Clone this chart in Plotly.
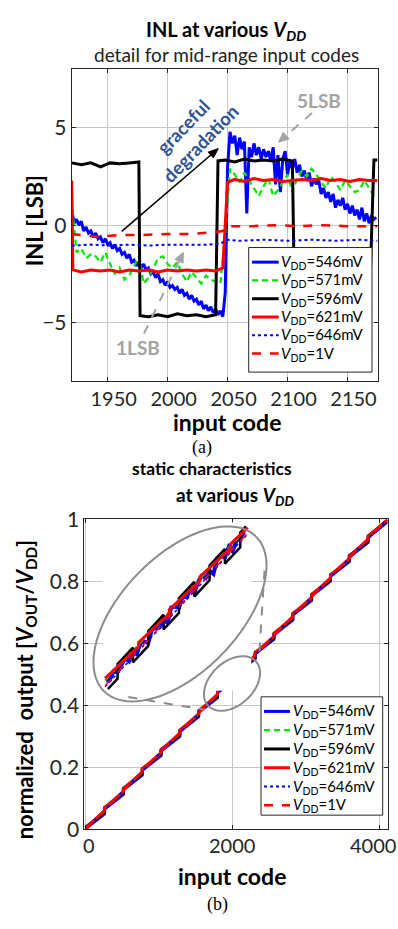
import numpy as np
import plotly.graph_objects as go

W, H = 398, 929

# ---------------- data ----------------
series_names = ["546mV", "571mV", "596mV", "621mV", "646mV", "1V"]

# (a) INL [LSB] versus input code, mid-range detail
inl_codes_546 = list(range(1920, 2176, 2))
inl_546 = [0.8, 0.1, 0.3, 0.0, 0.2, -0.3, -0.1, -0.4, -0.3, -0.6, -0.4, -0.7, -0.6, -0.9, -0.7, -1.0,
           -0.9, -1.2, -1.0, -1.3, -1.2, -1.5, -1.4, -1.7, -1.5, -1.9, -1.8, -2.1, -1.9, -2.2, -2.0, -2.3,
           -2.2, -2.5, -2.4, -2.7, -2.5, -2.9, -2.8, -3.1, -2.9, -3.2, -3.1, -3.3, -3.2, -3.5, -3.3, -3.6,
           -3.5, -3.8, -3.6, -3.9, -3.8, -4.1, -3.9, -4.3, -4.1, -4.4, -4.2, -4.5, -4.3, -4.6, -4.4, -4.7,
           -3.5, 3.0, 4.8, 4.2, 4.6, 3.6, 4.5, 3.9, 4.3, 0.6, 4.0, 3.5, 4.2, 3.6, 4.0, 3.4,
           3.9, 3.5, 3.8, 3.3, 4.0, 2.1, 3.6, 1.7, 3.4, 3.8, 2.6, 3.3, 2.9, 3.4, 2.7, 3.1,
           2.5, 2.8, 2.3, 2.7, 2.0, 2.4, 2.1, 2.3, 1.6, 1.9, 1.4, 1.7, 1.2, 1.6, 0.9, 1.3,
           1.0, 1.4, 0.8, 1.1, 0.6, 1.0, 0.5, 0.8, 0.3, 0.9, 0.2, 0.6, 0.1, 0.5, 0.3, 0.4]
inl_codes_571 = list(range(1920, 2176, 4))
inl_571 = [1.3, -1.4, -1.2, -1.7, -1.5, -1.6, -1.9, -1.4, -2.0, -2.5, -2.2, -2.8, -2.6, -2.1, -1.6, -3.0,
           -2.7, -2.2, -1.7, -1.6, -2.0, -2.2, -1.9, -2.5, -2.9, -2.4, -2.7, -3.0, -2.6, -2.8, -2.9, -3.0,
           -0.5, 2.9, 2.6, 2.2, 2.7, 2.3, 1.9, 1.5, 2.0, 2.4, 1.5, 1.8, 2.2, 2.6, 1.7, 2.4,
           2.8, 2.5, 2.9, 2.6, 2.2, 1.9, 2.5, 2.2, 1.8, 2.3, 2.0, 1.7, 1.8, 2.3, 1.9, 1.5]
inl_codes_596 = [1920, 1928, 1936, 1944, 1952, 1960, 1968, 1976, 1977, 1984, 1992, 2000, 2008, 2016, 2024,
                 2032, 2040, 2042, 2048, 2056, 2064, 2072, 2080, 2088, 2096, 2104, 2106, 2112, 2120, 2128,
                 2136, 2144, 2152, 2160, 2168, 2172, 2175]
inl_596 = [3.2, 3.1, 3.2, 3.0, 3.2, 3.15, 3.2, 3.25, -4.65, -4.7, -4.6, -4.7, -4.55, -4.65, -4.6,
           -4.7, -4.6, 3.3, 3.35, 3.25, 3.4, 3.3, 3.35, 3.3, 3.4, 3.3, -4.6, -4.6, -4.7, -4.6,
           -4.65, -4.6, -4.7, -4.6, -4.55, 3.35, 3.35]
inl_codes_621 = [1920, 1921, 1928, 1936, 1944, 1952, 1960, 1968, 1976, 1984, 1992, 2000, 2008, 2016, 2024,
                 2032, 2040, 2046, 2048, 2050, 2056, 2064, 2072, 2080, 2088, 2096, 2104, 2112, 2120, 2128,
                 2136, 2144, 2152, 2160, 2168, 2175]
inl_621 = [2.3, -2.3, -2.4, -2.3, -2.35, -2.3, -2.4, -2.3, -2.35, -2.3, -2.4, -2.3, -2.35, -2.3, -2.35,
           -2.3, -2.35, -2.2, 0.0, 2.2, 2.35, 2.25, 2.4, 2.3, 2.35, 2.25, 2.3, 2.35, 2.3, 2.4,
           2.3, 2.35, 2.25, 2.35, 2.3, 2.3]
inl_codes_646 = [1920, 1936, 1952, 1968, 1984, 2000, 2016, 2032, 2044, 2050, 2060, 2080, 2100, 2120, 2140, 2160, 2175]
inl_646 = [-1.05, -1.0, -1.05, -1.0, -1.05, -1.0, -1.0, -1.0, -0.95, -0.75, -0.8, -0.75, -0.8, -0.75, -0.8, -0.75, -0.8]
inl_codes_1v = [1920, 1940, 1960, 1980, 2000, 2020, 2040, 2046, 2050, 2070, 2090, 2110, 2130, 2150, 2175]
inl_1v = [-0.45, -0.6, -0.5, -0.5, -0.45, -0.45, -0.35, -0.3, -0.05, -0.05, 0.0, -0.05, 0.0, -0.05, -0.05]

inl_xticks = [1950, 2000, 2050, 2100, 2150]
inl_yticks = [-5, 0, 5]

# (b) static characteristics: normalized output versus input code
sc_codes = [0, 255, 256, 511, 512, 767, 768, 1023, 1024, 1279, 1280, 1535, 1536, 1791, 1792, 2047,
            2048, 2303, 2304, 2559, 2560, 2815, 2816, 3071, 3072, 3327, 3328, 3583, 3584, 3839, 3840, 4095]
sc_546 = [.003, .050, .066, .113, .128, .175, .191, .238, .253, .300, .316, .363, .378, .425, .441, .488,
          .503, .550, .566, .613, .628, .675, .691, .738, .753, .800, .816, .863, .878, .925, .941, .990]
sc_571 = [.004, .056, .067, .119, .129, .181, .192, .244, .254, .306, .317, .369, .379, .431, .442, .494,
          .504, .556, .567, .619, .629, .681, .692, .744, .754, .806, .817, .869, .879, .931, .942, .996]
sc_596 = [.008, .054, .071, .117, .133, .179, .196, .242, .258, .304, .321, .367, .383, .429, .446, .492,
          .508, .554, .571, .617, .633, .679, .696, .742, .758, .804, .821, .867, .883, .929, .946, .995]
sc_621 = [.006, .060, .069, .123, .131, .185, .194, .248, .256, .310, .319, .373, .381, .435, .444, .498,
          .506, .560, .569, .623, .631, .685, .694, .748, .756, .810, .819, .873, .881, .935, .944, .998]
sc_646 = [.001, .061, .064, .124, .126, .186, .189, .249, .251, .311, .314, .374, .376, .436, .439, .499,
          .501, .561, .564, .624, .626, .686, .689, .749, .751, .811, .814, .874, .876, .936, .939, .999]
sc_codes_1v = [0, 1023, 2047, 3071, 4095]
sc_1v = [0.0, 0.250, 0.500, 0.750, 1.0]

sc_xticks = [0, 2000, 4000]
sc_xticktext = ["0", "2000", "4000"]
sc_yticks = [0, 0.2, 0.4, 0.6, 0.8, 1]
sc_yticktext = ["0", "0.2", "0.4", "0.6", "0.8", "1"]

# (b) magnified inset around mid-range codes
zoom_codes_546 = [1784, 1800, 1816, 1832, 1848, 1864, 1880, 1896, 1912, 1928, 1944, 1960, 1976, 1992, 2008,
                  2024, 2040, 2056, 2072, 2088, 2104, 2120, 2136, 2152, 2168, 2184, 2200, 2216, 2232, 2248,
                  2264, 2280, 2296, 2312, 2328, 2344, 2360]
zoom_546 = [.4377, .4386, .4465, .4454, .4523, .4592, .4561, .4650, .4629, .4738, .4747, .4736, .4865, .4874,
            .4883, .4973, .4922, .5071, .5080, .5069, .5178, .5167, .5246, .5205, .5314, .5373, .5352, .5421,
            .5390, .5540, .5559, .5548, .5647, .5606, .5705, .5734, .5793]
zoom_codes_571 = [1780, 1920, 2048, 2176, 2304, 2375]
zoom_571 = [.4377, .4719, .5031, .5344, .5656, .5830]
zoom_codes_596 = [1792, 1832, 1832, 1896, 1896, 1960, 1960, 2024, 2024, 2088, 2088, 2152, 2152, 2216, 2216,
                  2280, 2280, 2344, 2344, 2368]
zoom_596 = [.4296, .4394, .4534, .4690, .4550, .4706, .4846, .5003, .4863, .5019, .5159, .5315, .5175, .5331,
            .5471, .5628, .5488, .5644, .5784, .5843]
zoom_codes_621 = [1780, 1920, 1920, 2048, 2048, 2176, 2176, 2304, 2304, 2375]
zoom_621 = [.4397, .4699, .4739, .5011, .5051, .5324, .5364, .5636, .5676, .5830]
zoom_codes_646 = [1780, 2375]
zoom_646 = [.4317, .5770]
zoom_codes_1v = [1780, 2375]
zoom_1v = [.4327, .5780]

# ---------------- styles ----------------
colors = ["#0000FF", "#00E600", "#000000", "#FF0000", "#0000FF", "#FF0000"]
dashes = ["solid", "6px,4px", "solid", "solid", "dot", "dash"]
widths = [3, 2.2, 3, 3, 2, 2.5]
FONT = "Lato, 'Open Sans', sans-serif"
SERIF = "'Liberation Serif', 'DejaVu Serif', serif"
GRID = "#c8c8c8"
AX = "#262626"
GRAY = "#a3a3a3"
ELL = "#8c8c8c"


def px(x):
    return x / W


def py(y):
    return 1 - y / H


fig = go.Figure()

inl_sets = [(inl_codes_546, inl_546), (inl_codes_571, inl_571), (inl_codes_596, inl_596),
            (inl_codes_621, inl_621), (inl_codes_646, inl_646), (inl_codes_1v, inl_1v)]
sc_sets = [(sc_codes, sc_546), (sc_codes, sc_571), (sc_codes, sc_596),
           (sc_codes, sc_621), (sc_codes, sc_646), (sc_codes_1v, sc_1v)]
zoom_sets = [(zoom_codes_546, zoom_546), (zoom_codes_571, zoom_571), (zoom_codes_596, zoom_596),
             (zoom_codes_621, zoom_621), (zoom_codes_646, zoom_646), (zoom_codes_1v, zoom_1v)]

for i, (xs, ys) in enumerate(inl_sets):
    fig.add_trace(go.Scatter(x=xs, y=ys, mode="lines", xaxis="x", yaxis="y", showlegend=False,
                             name="VDD=" + series_names[i],
                             line=dict(color=colors[i], width=widths[i], dash=dashes[i])))
for i, (xs, ys) in enumerate(sc_sets):
    fig.add_trace(go.Scatter(x=xs, y=ys, mode="lines", xaxis="x2", yaxis="y2", showlegend=False,
                             name="VDD=" + series_names[i],
                             line=dict(color=colors[i], width=widths[i], dash=dashes[i])))
zoom_widths = [4, 2, 2.5, 3, 1.5, 1.5]
for i, (xs, ys) in enumerate(zoom_sets):
    fig.add_trace(go.Scatter(x=xs, y=ys, mode="lines", xaxis="x3", yaxis="y3", showlegend=False,
                             name="VDD=" + series_names[i],
                             line=dict(color=colors[i], width=zoom_widths[i], dash=dashes[i])))

axis_common = dict(showgrid=True, gridcolor=GRID, gridwidth=1, showline=True, linecolor=AX, linewidth=1,
                   mirror="ticks", ticks="inside", ticklen=4, tickcolor=AX, zeroline=False,
                   tickfont=dict(family=FONT, size=20, color=AX))

fig.update_layout(
    width=W, height=H, margin=dict(l=0, r=0, t=0, b=0),
    paper_bgcolor="white", plot_bgcolor="white", showlegend=False,
    xaxis=dict(domain=[px(71.7), px(377.5)], range=[1920, 2175], tickvals=inl_xticks,
               anchor="y", ticklabelshift=6, **axis_common),
    yaxis=dict(domain=[py(377), py(57)], range=[-8, 8], tickvals=inl_yticks, anchor="x", **axis_common),
    xaxis2=dict(domain=[px(84.3), px(388)], range=[-20, 4110], tickvals=sc_xticks, anchor="y2",
                showticklabels=False, **axis_common),
    yaxis2=dict(domain=[py(838), py(519.3)], range=[0, 1], tickvals=sc_yticks, ticktext=sc_yticktext,
                anchor="x2", **axis_common),
    xaxis3=dict(domain=[px(102.7), px(251.3)], range=[1770, 2390], visible=False, anchor="y3"),
    yaxis3=dict(domain=[py(695.4), py(522.5)], range=[0.428, 0.588], visible=False, anchor="x3"),
)
fig.update_yaxes(tickfont=dict(family=FONT, size=21, color=AX))

ann = []


def text(t, x, y, size, color="#000000", angle=0, family=FONT, xanchor="center", pad=1):
    ann.append(dict(text=t, x=px(x), y=py(y), xref="paper", yref="paper", showarrow=False,
                    xanchor=xanchor, yanchor="middle", textangle=angle, borderpad=pad,
                    font=dict(family=family, size=size, color=color)))


text("<b>INL at various <i>V<sub>DD</sub></i></b>", 226, 17, 20)
text("detail for mid-range input codes", 226, 42, 19, color="#222222")
text("<b>INL [LSB]</b>", 34, 213, 22, angle=-90)
text("<b>input code</b>", 227, 419, 23)
text("(a)", 202.5, 446, 18, family=SERIF)
text("<b>static characteristics</b>", 212, 467, 17.5)
text("<b>at various <i>V<sub>DD</sub></i></b>", 235, 495, 19)
text("<b>normalized  output [<i>V</i><sub>OUT</sub>/<i>V</i><sub>DD</sub>]</b>", 26, 694, 22, angle=-90)
text("<b>input code</b>", 231.7, 886, 23)
text("(b)", 217.5, 915, 18, family=SERIF)
text("<b>graceful<br>degradation</b>", 191.7, 124, 18.5, color="#2F5496", angle=-46)
text("<b>5LSB</b>", 318.5, 89, 19, color=GRAY)
text("<b>1LSB</b>", 137.5, 342.5, 19, color=GRAY)

# bottom x tick labels (label centres as drawn in the reference)
for tv, tt, shift in zip(sc_xticks, sc_xticktext, [3, -1, -7]):
    ann.append(dict(text=tt, x=tv, y=py(854), xref="x2", yref="paper", showarrow=False, xshift=shift,
                    xanchor="center", yanchor="middle", font=dict(family=FONT, size=20, color=AX)))

shapes = []


def arrow(x0, y0, x1, y1, color, width, dash, head_len, head_w):
    d = np.hypot(x1 - x0, y1 - y0)
    ux, uy = (x1 - x0) / d, (y1 - y0) / d
    bx, by = x1 - ux * head_len, y1 - uy * head_len
    shapes.append(dict(type="line", xref="paper", yref="paper", x0=px(x0), y0=py(y0), x1=px(bx), y1=py(by),
                       line=dict(color=color, width=width, dash=dash)))
    nx, ny = -uy, ux
    pts = [(x1, y1), (bx + nx * head_w, by + ny * head_w), (bx - nx * head_w, by - ny * head_w)]
    path = "M" + " L".join(f"{px(a):.5f},{py(b):.5f}" for a, b in pts) + " Z"
    shapes.append(dict(type="path", xref="paper", yref="paper", path=path, fillcolor=color,
                       line=dict(color=color, width=1)))


arrow(121.7, 223.3, 218.3, 138.3, "#000000", 1.6, "solid", 10, 4)
arrow(312, 101.7, 278.7, 131.7, GRAY, 2, "dash", 10, 4.5)
arrow(144, 328.3, 183.3, 245, GRAY, 2, "dash", 10, 4.5)


def ellipse_path(cx, cy, a, b, th_deg, n=90):
    th = np.radians(th_deg)
    t = np.linspace(0, 2 * np.pi, n)
    ex = cx + a * np.cos(t) * np.cos(th) - b * np.sin(t) * np.sin(th)
    ey = cy - (a * np.cos(t) * np.sin(th) + b * np.sin(t) * np.cos(th))
    pts = [f"{px(x):.5f},{py(y):.5f}" for x, y in zip(ex, ey)]
    return "M" + " L".join(pts) + " Z"


shapes.append(dict(type="path", xref="paper", yref="paper", path=ellipse_path(180, 616.5, 110, 59, 47),
                   line=dict(color=ELL, width=2)))
shapes.append(dict(type="path", xref="paper", yref="paper", path=ellipse_path(232, 688, 33, 22, 45),
                   line=dict(color=ELL, width=2)))
for (x0, y0, x1, y1) in [(264.5, 572, 259, 663), (128.3, 702, 205, 715)]:
    shapes.append(dict(type="line", xref="paper", yref="paper", x0=px(x0), y0=py(y0), x1=px(x1), y1=py(y1),
                       line=dict(color=ELL, width=2, dash="dash")))


# manual legends
def legend_box(left, top, right, bottom, first_y, step, line_x0, line_x1, text_x):
    shapes.append(dict(type="rect", xref="paper", yref="paper", x0=px(left), x1=px(right),
                       y0=py(bottom), y1=py(top), line=dict(color=AX, width=1), fillcolor="white",
                       layer="above"))
    for i, nm in enumerate(series_names):
        yy = first_y + i * step
        shapes.append(dict(type="line", xref="paper", yref="paper", x0=px(line_x0), x1=px(line_x1),
                           y0=py(yy), y1=py(yy), layer="above",
                           line=dict(color=colors[i], width=min(widths[i], 3), dash=dashes[i])))
        text("<i>V</i><sub>DD</sub>=" + nm, text_x, yy, 15, xanchor="left", pad=0)


legend_box(248.7, 240, 372, 368, 255, 18.8, 252, 278.7, 279.5)
legend_box(261, 701.7, 382.7, 823.3, 716.7, 19.3, 264, 290, 291.5)

fig.update_layout(annotations=ann, shapes=shapes)
fig.write_html("out.html")
